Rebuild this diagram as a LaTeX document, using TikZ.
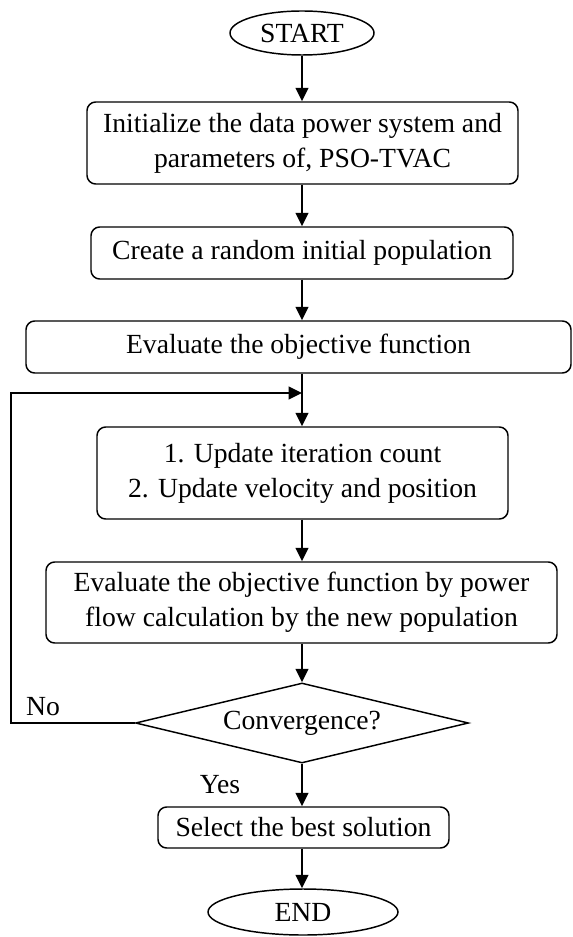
\documentclass[tikz,border=0pt]{standalone}
\usepackage{fontspec}
\setmainfont{Liberation Serif}
\usetikzlibrary{shapes.geometric,arrows.meta}
\begin{document}
\begin{tikzpicture}[x=0.75pt,y=-0.75pt,
  every node/.style={font=\fontsize{20.75}{26.25}\selectfont},
  box/.style={draw,line width=1.1pt,rounded corners=6.5pt,inner sep=0pt,align=center},
  term/.style={draw,ellipse,line width=1.1pt,inner sep=0pt},
  decision/.style={draw,diamond,aspect=4.16,line width=1.1pt,inner sep=0pt},
  arr/.style={line width=1.4pt,-{Triangle[length=10pt,width=9.5pt]}},
  lbl/.style={inner sep=0pt}]
\useasboundingbox (0,0) rectangle (573,937);
\node[term,minimum width=108pt,minimum height=33pt] (start) at (302,33) {START};
\node[box,minimum width=323.25pt,minimum height=61.5pt] (init) at (302.5,143) {Initialize the data power system and\\parameters of, PSO-TVAC};
\node[box,minimum width=316.5pt,minimum height=39pt] (create) at (302,253) {Create a random initial population};
\node[box,minimum width=408.75pt,minimum height=39pt] (eval1) at (298.5,347) {Evaluate the objective function};
\node[box,minimum width=308.25pt,minimum height=69pt] (update) at (302.5,473) {1. Update iteration count\\2. Update velocity and position};
\node[box,minimum width=383.25pt,minimum height=60.75pt] (eval2) at (301.5,602.5) {Evaluate the objective function by power\\flow calculation by the new population};
\node[decision,minimum width=249.75pt,minimum height=60pt] (cond) at (302,723) {Convergence?};
\node[box,minimum width=218.25pt,minimum height=30.75pt] (select) at (303.5,827.5) {Select the best solution};
\node[term,minimum width=142.5pt,minimum height=34.5pt] (end) at (303,912) {END};
\node[lbl] (no) at (43,707) {No};
\node[lbl] (yes) at (220,785) {Yes};
\coordinate (fb) at (11,393);
\coordinate (join) at (302,393);
\draw[arr] (start.south) -- (start.south |- init.north);
\draw[arr] (init.south -| start.south) -- (create.north -| start.south);
\draw[arr] (create.south -| start.south) -- (eval1.north -| start.south);
\draw[arr] (eval1.south -| start.south) -- (update.north -| start.south);
\draw[arr] (update.south -| start.south) -- (eval2.north -| start.south);
\draw[arr] (eval2.south -| cond.north) -- (cond.north);
\draw[arr] (cond.south) -- (select.north -| cond.south);
\draw[arr] (select.south -| cond.south) -- (end.north -| cond.south);
\draw[arr] (cond.west) -| (fb) -- (join);
\end{tikzpicture}
\end{document}
